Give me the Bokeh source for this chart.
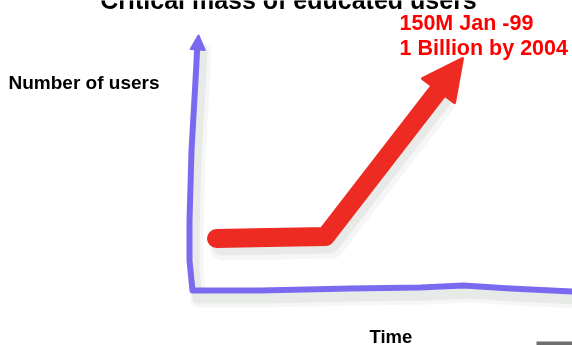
from bokeh.plotting import figure
from bokeh.models import Range1d, ColumnDataSource, Arrow, NormalHead, Label
from bokeh.transform import dodge
from bokeh.embed import file_html
from bokeh.resources import INLINE

# ---- chart content -------------------------------------------------------
title_text = "Critical mass of educated users"
y_label = "Number of users"
x_label = "Time"
note_lines = ["150M Jan -99", "1 Billion by 2004"]

# hand-drawn axes (slide pixel space): up the y axis, then along the x axis
axes_x = [197, 195, 191, 189, 189, 191, 192, 260, 350, 420, 463, 510, 572]
axes_y = [42, 80, 150, 220, 260, 280, 290, 290, 288, 287, 285, 288, 291]
yaxis_head_x = [197, 198]
yaxis_head_y = [52, 35]

# growth curve: flat, then steep rise
growth_x = [216, 325, 441]
growth_y = [238, 236, 86]
growth_head_x = [441, 462]
growth_head_y = [86, 58]

# slide footer artefact
footer_x = [536, 572]
footer_y = [341, 345]

BLUE = "#7a6af0"
RED = "#ee2b22"
FONT = "Liberation Sans"

W, H = 572, 345
p = figure(width=W, height=H, x_range=Range1d(0, W), y_range=Range1d(H, 0),
           output_backend="svg", toolbar_location=None, min_border=0,
           x_axis_type=None, y_axis_type=None,
           styles={"position": "fixed", "left": "0px", "top": "0px"})
p.grid.visible = False
p.outline_line_color = None
p.background_fill_color = "white"
p.border_fill_color = "white"

axes_src = ColumnDataSource(dict(x=axes_x, y=axes_y))
growth_src = ColumnDataSource(dict(x=growth_x, y=growth_y))

# soft shadows
for dx, dy, w, a in [(6, 9, 16, 0.06), (5, 8, 10, 0.08)]:
    p.line(x=dodge("x", dx), y=dodge("y", dy), source=axes_src, line_width=w,
           line_color="#556655", line_alpha=a, line_cap="round", line_join="round")
for dx, dy, w, a in [(6, 9, 26, 0.06), (5, 8, 18, 0.08)]:
    p.line(x=dodge("x", dx), y=dodge("y", dy), source=growth_src, line_width=w,
           line_color="#556655", line_alpha=a, line_cap="round", line_join="round")

# axes
p.line(x="x", y="y", source=axes_src, line_width=6, line_color=BLUE,
       line_cap="round", line_join="round")
p.add_layout(Arrow(x_start=yaxis_head_x[0], y_start=yaxis_head_y[0],
                   x_end=yaxis_head_x[1], y_end=yaxis_head_y[1],
                   line_alpha=0,
                   end=NormalHead(size=14, fill_color=BLUE, line_color=BLUE,
                                  line_width=2, line_join="round")))

# growth arrow
p.line(x="x", y="y", source=growth_src, line_width=19, line_color=RED,
       line_cap="round", line_join="round")
p.add_layout(Arrow(x_start=growth_head_x[0], y_start=growth_head_y[0],
                   x_end=growth_head_x[1], y_end=growth_head_y[1],
                   line_alpha=0,
                   end=NormalHead(size=40, fill_color=RED, line_color=RED,
                                  line_width=3, line_join="round")))

# footer bar
p.quad(left=footer_x[0], right=footer_x[1], top=footer_y[0], bottom=footer_y[1],
       fill_color="#6e6e6e", line_color=None)

# texts
def lab(x, y, text, size, color="black", align="left"):
    p.add_layout(Label(x=x, y=y, text=text, text_font=FONT, text_font_style="bold",
                       text_font_size=size, text_color=color, text_align=align,
                       text_baseline="alphabetic"))

lab(288, -1, title_text, "25px", align="center")
lab(399, 22, note_lines[0], "21.5px", color="#ff0000")
lab(399, 47, note_lines[1], "21.5px", color="#ff0000")
lab(8, 82, y_label, "19px")
lab(369, 336, x_label, "18.5px")

open("out.html", "w").write(file_html(p, INLINE))
